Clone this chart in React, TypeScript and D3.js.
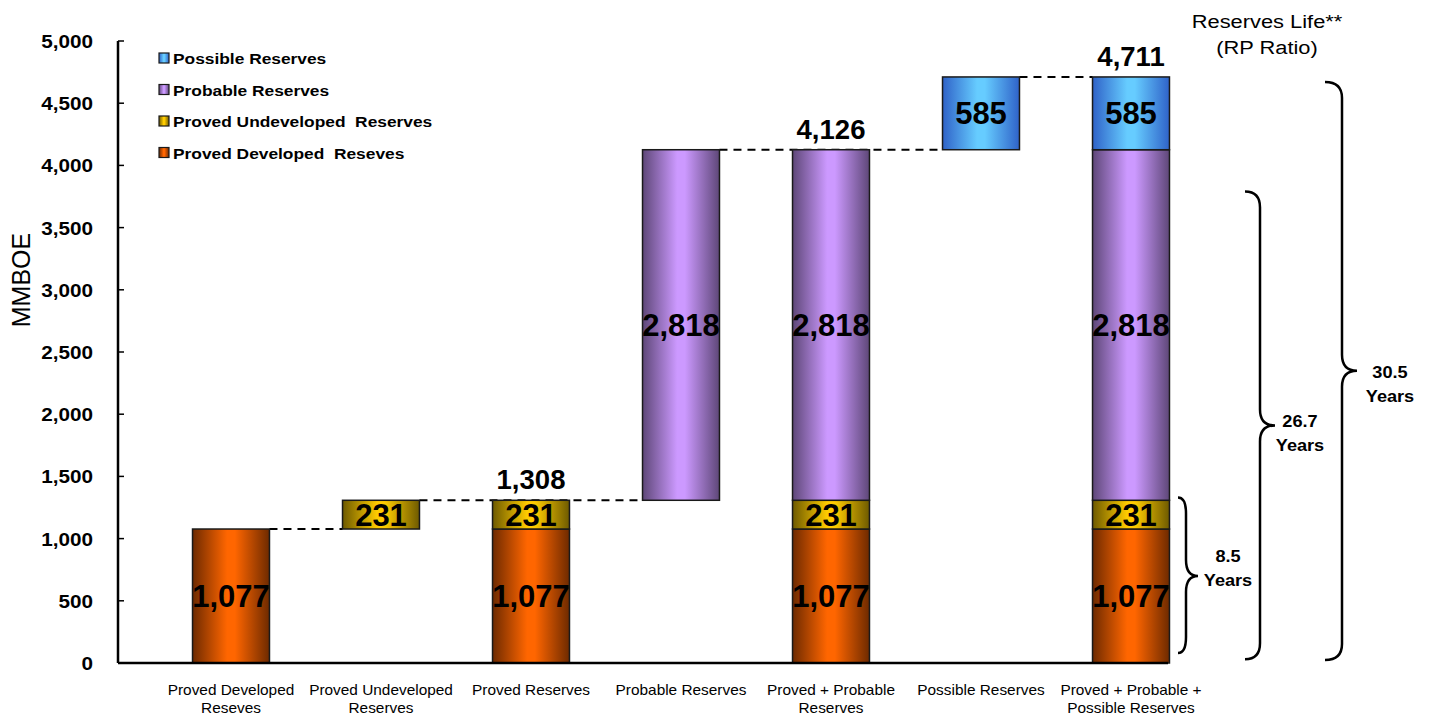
import React from "react";
import * as d3 from "d3";

const categories = [
  ["Proved Developed", "Reseves"],
  ["Proved Undeveloped", "Reserves"],
  ["Proved Reserves"],
  ["Probable Reserves"],
  ["Proved + Probable", "Reserves"],
  ["Possible Reserves"],
  ["Proved + Probable +", "Possible Reserves"],
];
const catKeys = categories.map((c) => c.join(" "));

// invisible floating base for waterfall steps
const baseOffset = [0, 1077, 0, 1308, 0, 4126, 0];
const provedDeveloped = [1077, 0, 1077, 0, 1077, 0, 1077];
const provedUndeveloped = [0, 231, 231, 0, 231, 0, 231];
const probable = [0, 0, 0, 2818, 2818, 0, 2818];
const possible = [0, 0, 0, 0, 0, 585, 585];

const totalLabels = [
  { idx: 2, value: 1308 },
  { idx: 4, value: 4126 },
  { idx: 6, value: 4711 },
];
// dashed connectors: from bar -> to bar at value
const connectors = [
  { from: 0, to: 1, value: 1077 },
  { from: 1, to: 3, value: 1308 },
  { from: 3, to: 5, value: 4126 },
  { from: 5, to: 6, value: 4711 },
];

const yTicks = [0, 500, 1000, 1500, 2000, 2500, 3000, 3500, 4000, 4500, 5000];

const legendItems = [
  { key: "poss", label: "Possible Reserves" },
  { key: "prob", label: "Probable Reserves" },
  { key: "pud", label: "Proved Undeveloped  Reserves" },
  { key: "pd", label: "Proved Developed  Reseves" },
];

const braces = [
  { top: 1330, tip: 700, bottom: 80, years: "8.5", textAt: 804 },
  { top: 3790, tip: 1910, bottom: 30, years: "26.7", textAt: 1889 },
  { top: 4670, tip: 2350, bottom: 25, years: "30.5", textAt: 2283 },
];

const colors: Record<string, [string, string]> = {
  pd: ["#6e2a00", "#ff6600"],
  pud: ["#6e5a00", "#ffcc00"],
  prob: ["#5e4778", "#cc99ff"],
  poss: ["#2f62c8", "#66ccff"],
};

const FONT = "'Liberation Sans', Arial, Helvetica, sans-serif";

function T({ x, y, size, weight = "normal", anchor = "middle", sx = 1.12, children }: any) {
  return (
    <g transform={`translate(${x},${y}) scale(${sx},1)`}>
      <text
        fontFamily={FONT}
        fontSize={size}
        fontWeight={weight}
        textAnchor={anchor}
        fill="#000"
        style={{ whiteSpace: "pre" }}
      >
        {children}
      </text>
    </g>
  );
}

export default function App() {
  const W = 1431;
  const H = 720;
  const plotLeft = 118;
  const plotRight = 1168;
  const y = d3.scaleLinear().domain([0, 5000]).range([663, 41]);
  const x = d3.scaleBand().domain(catKeys).range([156, 1206]).paddingInner(0.487).paddingOuter(0.2435);
  const bw = x.bandwidth();

  const table = catKeys.map((k, i) => ({
    cat: k,
    base: baseOffset[i],
    pd: provedDeveloped[i],
    pud: provedUndeveloped[i],
    prob: probable[i],
    poss: possible[i],
  }));
  const keys = ["base", "pd", "pud", "prob", "poss"];
  const series = d3.stack<any>().keys(keys)(table);

  const fmt = d3.format(",");

  const bracePath = (b: any, x0: number, x1: number, x2: number) => {
    const yt = y(b.top);
    const yb = y(b.bottom);
    const ym = y(b.tip);
    const r = 16;
    const p = d3.path();
    p.moveTo(x0, yt);
    p.quadraticCurveTo(x1, yt, x1, yt + r);
    p.lineTo(x1, ym - r);
    p.quadraticCurveTo(x1, ym, x2, ym);
    p.quadraticCurveTo(x1, ym, x1, ym + r);
    p.lineTo(x1, yb - r);
    p.quadraticCurveTo(x1, yb, x0, yb);
    return p.toString();
  };
  const braceX = [
    [1178, 1186, 1198],
    [1245, 1260, 1275],
    [1325, 1342, 1357],
  ];
  const braceTextX = [1228, 1300, 1390];

  return (
    <svg width={W} height={H} style={{ position: "absolute", left: 0, top: 0, background: "#fff" }}>
      <defs>
        {Object.entries(colors).map(([k, [dark, light]]) => (
          <linearGradient key={k} id={`g-${k}`} x1="0" x2="1" y1="0" y2="0">
            <stop offset="0" stopColor={dark} />
            <stop offset="0.45" stopColor={light} />
            <stop offset="0.55" stopColor={light} />
            <stop offset="1" stopColor={dark} />
          </linearGradient>
        ))}
      </defs>

      {/* connectors */}
      {connectors.map((c, i) => (
        <line
          key={i}
          x1={(x(catKeys[c.from]) as number) + bw}
          x2={x(catKeys[c.to]) as number}
          y1={y(c.value)}
          y2={y(c.value)}
          stroke="#000"
          strokeWidth={2}
          strokeDasharray="8,6"
        />
      ))}

      {/* bars */}
      {series
        .filter((s) => s.key !== "base")
        .map((s) =>
          s.map((d, i) => {
            const v = d[1] - d[0];
            if (v <= 0) return null;
            const bx = x(catKeys[i]) as number;
            return (
              <rect
                key={s.key + i}
                x={bx}
                y={y(d[1])}
                width={bw}
                height={y(d[0]) - y(d[1])}
                fill={`url(#g-${s.key})`}
                stroke="#1a1a1a"
                strokeWidth={1.5}
              />
            );
          })
        )}

      {/* segment labels */}
      {series
        .filter((s) => s.key !== "base")
        .map((s) =>
          s.map((d, i) => {
            const v = d[1] - d[0];
            if (v <= 0) return null;
            const cx = (x(catKeys[i]) as number) + bw / 2;
            const cy = y((d[0] + d[1]) / 2);
            return (
              <T key={"l" + s.key + i} x={cx} y={cy + 11} size={31} weight="bold" sx={1}>
                {fmt(v)}
              </T>
            );
          })
        )}

      {/* totals */}
      {totalLabels.map((t) => (
        <T key={t.idx} x={(x(catKeys[t.idx]) as number) + bw / 2} y={y(t.value) - 11} size={27} weight="bold" sx={1.02}>
          {fmt(t.value)}
        </T>
      ))}

      {/* axes */}
      <line x1={plotLeft} x2={plotLeft} y1={y(5000)} y2={y(0)} stroke="#000" strokeWidth={2.5} />
      <line x1={plotLeft} x2={plotRight} y1={y(0)} y2={y(0)} stroke="#000" strokeWidth={2.5} />
      {yTicks.map((t) => (
        <g key={t}>
          <line x1={plotLeft} x2={plotLeft + 6} y1={y(t)} y2={y(t)} stroke="#000" strokeWidth={1.5} />
          <T x={93} y={y(t) + 7} size={18} weight="bold" anchor="end" sx={1.15}>
            {fmt(t)}
          </T>
        </g>
      ))}
      <g transform={`translate(30,${280}) rotate(-90)`}>
        <text fontFamily={FONT} fontSize={25} textAnchor="middle">
          MMBOE
        </text>
      </g>

      {/* x labels */}
      {categories.map((lines, i) => (
        <g key={i}>
          {lines.map((ln, j) => (
            <T key={j} x={(x(catKeys[i]) as number) + bw / 2} y={695 + j * 18} size={14} sx={1.1}>
              {ln}
            </T>
          ))}
        </g>
      ))}

      {/* legend */}
      {legendItems.map((l, i) => {
        const ly = 58 + i * 31.5;
        return (
          <g key={l.key}>
            <rect x={159} y={ly - 5} width={10} height={10} fill={`url(#g-${l.key})`} stroke="#1a1a1a" strokeWidth={1.2} />
            <T x={173} y={ly + 6} size={15.5} weight="bold" anchor="start" sx={1.12}>
              {l.label}
            </T>
          </g>
        );
      })}

      {/* header */}
      <T x={1267} y={28} size={19} sx={1.15}>
        Reserves Life**
      </T>
      <T x={1267} y={54} size={19} sx={1.15}>
        (RP Ratio)
      </T>

      {/* braces */}
      {braces.map((b, i) => (
        <g key={i}>
          <path
            d={bracePath(b, braceX[i][0], braceX[i][1], braceX[i][2])}
            fill="none"
            stroke="#000"
            strokeWidth={2.5}
          />
          <T x={braceTextX[i]} y={y(b.textAt) - 1} size={16.5} weight="bold" sx={1.1}>
            {b.years}
          </T>
          <T x={braceTextX[i]} y={y(b.textAt) + 23} size={16.5} weight="bold" sx={1.1}>
            Years
          </T>
        </g>
      ))}
    </svg>
  );
}
